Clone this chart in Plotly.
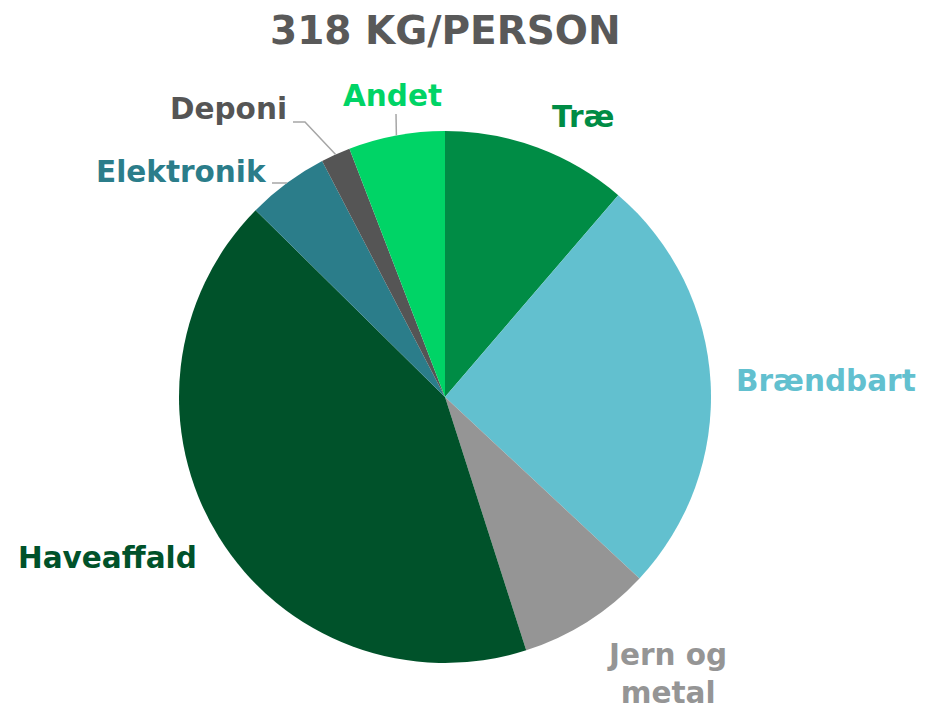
import math
import plotly.graph_objects as go

# ---- data ----
labels = ["Træ", "Brændbart", "Jern og<br>metal", "Haveaffald", "Elektronik", "Deponi", "Andet"]
values_kg = [35.9, 81.6, 25.8, 134.6, 15.8, 5.7, 18.6]
colors = ["#008C45", "#62C0CF", "#959595", "#00522A", "#2B7D8A", "#555555", "#00D466"]
title_text = "318 KG/PERSON"

# the page body has an 8px margin; size the figure so it fits in the 925x711 window
OFF = 8
FW, FH = 925 - OFF, 711 - OFF


def fx(px):
    return (px - OFF) / FW


def fy(py):
    return 1 - (py - OFF) / FH


dom_x = [fx(179), fx(711)]
dom_y = [fy(663), fy(131)]

fig = go.Figure(go.Pie(
    labels=labels,
    values=values_kg,
    sort=False,
    direction="clockwise",
    rotation=0,
    marker=dict(colors=colors, line=dict(width=0)),
    textinfo="none",
    hoverinfo="label+value",
    showlegend=False,
    domain=dict(x=dom_x, y=dom_y),
))

FONT = "DejaVu Sans"

# label text placements (centre of text, page pixels from top-left)
label_pos = {
    "Træ": (583, 117),
    "Brændbart": (826, 381),
    "Jern og<br>metal": (667, 674),
    "Haveaffald": (107, 558),
    "Elektronik": (181, 172),
    "Deponi": (228, 109),
    "Andet": (392, 96),
}

annotations = [dict(
    text="<b>%s</b>" % title_text, x=fx(445), y=fy(30), xref="paper", yref="paper",
    xanchor="center", yanchor="middle", showarrow=False,
    font=dict(family=FONT, size=39, color="#595959"))]

for lab, col in zip(labels, colors):
    px, py = label_pos[lab]
    annotations.append(dict(
        text="<b>%s</b>" % lab, x=fx(px), y=fy(py), xref="paper", yref="paper",
        xanchor="center", yanchor="middle", showarrow=False, align="center",
        font=dict(family=FONT, size=29.5, color=col)))

# leader lines from slice mid-angles
cx = (dom_x[0] + dom_x[1]) / 2
cy = (dom_y[0] + dom_y[1]) / 2
rx = (dom_x[1] - dom_x[0]) / 2
ry = (dom_y[1] - dom_y[0]) / 2
total = sum(values_kg)
cum = 0
mid = {}
for lab, v in zip(labels, values_kg):
    a = (cum + v / 2) / total * 2 * math.pi
    mid[lab] = (cx + rx * math.sin(a), cy + ry * math.cos(a))
    cum += v

leader_pts = {
    "Deponi": [(305, 122), (293, 122)],
    "Elektronik": [(272, 183)],
    "Andet": [(396, 114)],
}
shapes = []
for lab, pts in leader_pts.items():
    sx, sy = mid[lab]
    path = "M %f %f" % (sx, sy)
    for (px, py) in pts:
        path += " L %f %f" % (fx(px), fy(py))
    shapes.append(dict(type="path", path=path, xref="paper", yref="paper",
                       line=dict(color="#A6A6A6", width=1.5)))

fig.update_layout(
    width=FW, height=FH,
    margin=dict(l=0, r=0, t=0, b=0),
    paper_bgcolor="white", plot_bgcolor="white",
    annotations=annotations, shapes=shapes,
)

fig.write_html("out.html")
